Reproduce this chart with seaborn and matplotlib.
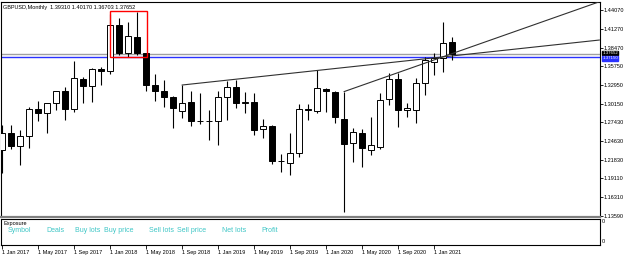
import matplotlib
matplotlib.use("Agg")
import matplotlib.pyplot as plt
from matplotlib.patches import Rectangle
import numpy as np
import pandas as pd
import seaborn as sns

# GBPUSD monthly candles, Jan 2017 .. Mar 2021
opens = [1.2337, 1.2579, 1.2390, 1.2545, 1.2940, 1.2887, 1.3027, 1.3215, 1.2935, 1.3385, 1.3284, 1.3531,
         1.3511, 1.4189, 1.3769, 1.4017, 1.3769, 1.3298, 1.3214, 1.3125, 1.2917, 1.3051, 1.2769, 1.2764,
         1.2760, 1.3115, 1.3264, 1.3036, 1.3042, 1.2641, 1.2695, 1.2171, 1.2146, 1.2294, 1.2938, 1.2912,
         1.3240, 1.3200, 1.2794, 1.2432, 1.2591, 1.2333, 1.2372, 1.3086, 1.3383, 1.2927, 1.2927, 1.3333,
         1.3644, 1.3694, 1.3931]
highs = [1.2706, 1.2710, 1.2630, 1.2970, 1.3055, 1.3035, 1.3215, 1.3270, 1.3660, 1.3420, 1.3555, 1.3560,
         1.4345, 1.4288, 1.4238, 1.4386, 1.3780, 1.3462, 1.3373, 1.3140, 1.3298, 1.3214, 1.3175, 1.2928,
         1.3214, 1.3365, 1.3380, 1.3199, 1.3184, 1.2790, 1.2708, 1.2270, 1.2590, 1.3013, 1.3012, 1.3514,
         1.3260, 1.3210, 1.3200, 1.2655, 1.2648, 1.2828, 1.3175, 1.3481, 1.3482, 1.3036, 1.3398, 1.3718,
         1.3769, 1.4238, 1.4017]
lows = [1.1990, 1.2349, 1.2111, 1.2360, 1.2770, 1.2591, 1.2930, 1.2779, 1.2900, 1.3030, 1.3051, 1.3300,
        1.3460, 1.3745, 1.3715, 1.3744, 1.3214, 1.3061, 1.2977, 1.2665, 1.2804, 1.2690, 1.2722, 1.2483,
        1.2408, 1.2773, 1.2962, 1.2878, 1.2557, 1.2507, 1.2126, 1.2012, 1.1963, 1.2234, 1.2779, 1.2887,
        1.2902, 1.2729, 1.1409, 1.2160, 1.2086, 1.2259, 1.2350, 1.2999, 1.2680, 1.2820, 1.2730, 1.3150,
        1.3447, 1.3496, 1.3670]
closes = [1.2579, 1.2390, 1.2545, 1.2940, 1.2887, 1.3027, 1.3210, 1.2935, 1.3398, 1.3284, 1.3531, 1.3511,
          1.4190, 1.3769, 1.4027, 1.3769, 1.3298, 1.3214, 1.3125, 1.2962, 1.3036, 1.2769, 1.2764, 1.2760,
          1.3115, 1.3264, 1.3027, 1.3040, 1.2631, 1.2695, 1.2171, 1.2166, 1.2294, 1.2938, 1.2927, 1.3249,
          1.3205, 1.2828, 1.2423, 1.2601, 1.2359, 1.2402, 1.3080, 1.3383, 1.2927, 1.2952, 1.3334, 1.3669,
          1.3694, 1.3917, 1.3765]

date_labels = ["1 Jan 2017", "1 May 2017", "1 Sep 2017", "1 Jan 2018", "1 May 2018", "1 Sep 2018",
               "1 Jan 2019", "1 May 2019", "1 Sep 2019", "1 Jan 2020", "1 May 2020", "1 Sep 2020",
               "1 Jan 2021"]
date_ticks = [0, 4, 8, 12, 16, 20, 24, 28, 32, 36, 40, 44, 48]

price_ticks = [1.44070, 1.41270, 1.38470, 1.35750, 1.32950, 1.30150,
               1.27430, 1.24630, 1.21830, 1.19110, 1.16310, 1.13590]

bid_price = 1.37652
level_price = 1.37150
box_time = [12, 16.07]
box_price = [1.37150, 1.43970]
# trend lines: (start bar, second anchor bar), anchored on highs
trend_anchors = [(20, 35), (38, 44)]

exposure_cols = ["Symbol", "Deals", "Buy lots", "Buy price", "Sell lots", "Sell price", "Net lots", "Profit"]
exposure_x = [7.3, 46.7, 75.3, 103.7, 148.7, 176.7, 222.3, 261.7]

sns.set_theme(style="white")
plt.rcParams['font.family'] = ['Liberation Sans', 'DejaVu Sans']

W, H = 625, 257
fig = plt.figure(figsize=(W / 100, H / 100), dpi=100)
fig.patch.set_facecolor("white")

ax = fig.add_axes([1 / W, 1 - 216.5 / H, 598.5 / W, 215 / H])
ax2 = fig.add_axes([1 / W, 1 - 244.5 / H, 598.5 / W, 26 / H])

xmin = -1 / 9
xmax = xmin + 598.5 / 9
ax.set_xlim(xmin, xmax)
ax.set_ylim(1.13470, 1.45376)
ax2.set_xlim(xmin, xmax)
ax2.set_ylim(0, 1)

df = pd.DataFrame({"o": opens, "h": highs, "l": lows, "c": closes})
df["x"] = np.arange(len(df))
bull = df["c"] >= df["o"]

ax.vlines(df["x"], df["l"], df["h"], color="black", lw=0.8, zorder=2)
body_h = (df["c"] - df["o"]).abs().clip(lower=0.00005)
body_b = df[["o", "c"]].min(axis=1)
ax.bar(df["x"][bull], body_h[bull], bottom=body_b[bull], width=0.62,
       color="white", edgecolor="black", lw=0.7, zorder=3)
ax.bar(df["x"][~bull], body_h[~bull], bottom=body_b[~bull], width=0.62,
       color="black", edgecolor="black", lw=0.7, zorder=3)

# trend lines extended to the right edge
rows = []
for k, (a, b) in enumerate(trend_anchors):
    slope = (highs[b] - highs[a]) / (b - a)
    rows.append({"x": a, "price": highs[a], "line": k})
    rows.append({"x": xmax, "price": highs[a] + slope * (xmax - a), "line": k})
lines_df = pd.DataFrame(rows)
sns.lineplot(data=lines_df, x="x", y="price", units="line", estimator=None,
             color="#303030", lw=0.8, ax=ax, zorder=4)

ax.axhline(bid_price, color="#a0a0a0", lw=1.0, zorder=1)
ax.axhline(level_price, color="#2a32ff", lw=1.0, zorder=1)
ax.add_patch(Rectangle((box_time[0], box_price[0]), box_time[1] - box_time[0],
                       box_price[1] - box_price[0], fill=False, edgecolor="#ff0000", lw=1.0, zorder=5))

ax.yaxis.tick_right()
ax.set_yticks(price_ticks)
ax.set_yticklabels([f"{p:.5f}" for p in price_ticks])
ax.tick_params(axis="y", which="both", right=True, length=2, width=0.6, pad=1,
               labelsize=4, colors="black")
ax.set_xticks([])
ax.set_xlabel("")
ax.set_ylabel("")
for s in ["top", "left", "right"]:
    ax.spines[s].set_color("black")
    ax.spines[s].set_linewidth(0.8)
ax.spines["bottom"].set_color("#808080")
ax.spines["bottom"].set_linewidth(1.6)

# price boxes on the axis (bid just above, level just below)
ax.annotate(f"{bid_price:.5f}", xy=(1, bid_price), xycoords=ax.get_yaxis_transform(),
            xytext=(2, 0.25), textcoords="offset points", fontsize=3.2, color="white",
            va="center", ha="left", zorder=6, annotation_clip=False,
            bbox=dict(boxstyle="square,pad=0.05", fc="black", ec="black"))
ax.annotate(f"{level_price:.5f}", xy=(1, level_price), xycoords=ax.get_yaxis_transform(),
            xytext=(2, -1.0), textcoords="offset points", fontsize=3.2, color="white",
            va="center", ha="left", zorder=7, annotation_clip=False,
            bbox=dict(boxstyle="square,pad=0.05", fc="#2a32ff", ec="#2a32ff"))

fig.text(3 / W, 1 - 7 / H, "GBPUSD,Monthly  1.39310 1.40170 1.36703 1.37652",
         fontsize=4, color="black", va="center", ha="left")

# exposure panel
ax2.set_yticks([])
ax2.set_xticks(date_ticks)
ax2.set_xticklabels(date_labels, ha="left")
ax2.tick_params(axis="x", bottom=True, length=3, width=0.6, pad=1, labelsize=4, colors="black")
for s in ax2.spines.values():
    s.set_color("black")
    s.set_linewidth(0.8)
fig.text(4 / W, 1 - 223.3 / H, "Exposure", fontsize=4, color="black", va="center", ha="left")
for name, xp in zip(exposure_cols, exposure_x):
    fig.text(xp / W, 1 - 230.7 / H, name, fontsize=5, color="#3ec6c6", va="center", ha="left")
fig.text(602 / W, 1 - 221.7 / H, "0", fontsize=4, color="black", va="center", ha="left")
fig.text(602 / W, 1 - 241.7 / H, "0", fontsize=4, color="black", va="center", ha="left")

fig.savefig("out.png", dpi=100, facecolor="white")
